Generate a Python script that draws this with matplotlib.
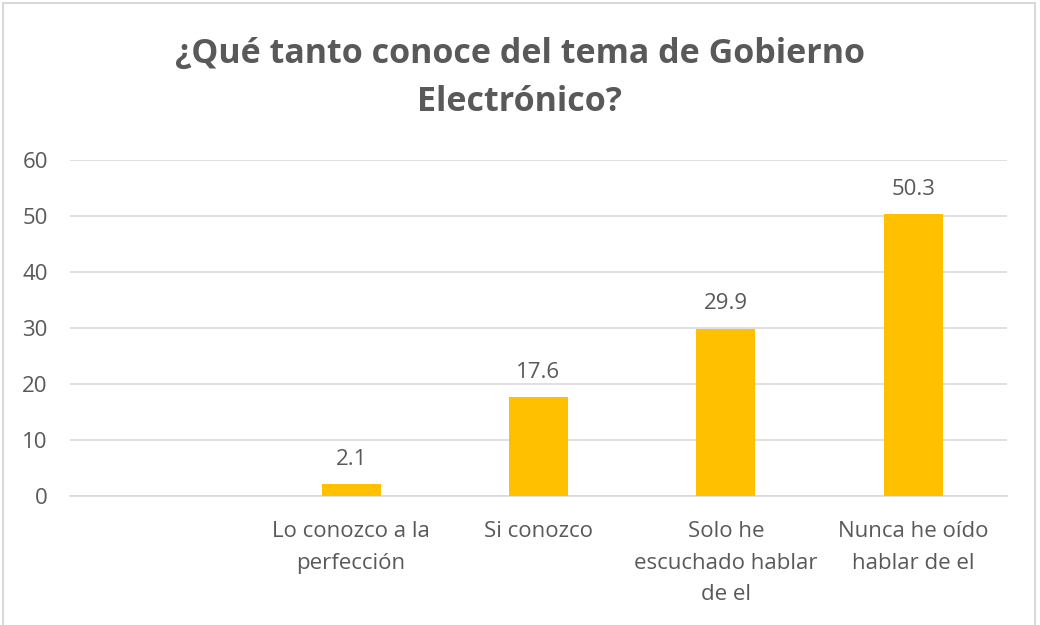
import matplotlib
matplotlib.use("Agg")
import matplotlib.pyplot as plt
import numpy as np
from matplotlib.patches import Rectangle

categories = ["", "Lo conozco a la\nperfección", "Si conozco",
              "Solo he\nescuchado hablar\nde el", "Nunca he oído\nhablar de el"]
values = [np.nan, 2.1, 17.6, 29.9, 50.3]
yticks = [0, 10, 20, 30, 40, 50, 60]
title = "¿Qué tanto conoce del tema de Gobierno\nElectrónico?"

FONT = ["Open Sans", "DejaVu Sans"]
GRAY = "#595959"
plt.rcParams["font.family"] = FONT

fig = plt.figure(figsize=(10.4, 6.25), dpi=100)
fig.patches.append(Rectangle((3/1040, -0.01), 1032/1040, 1 - 3/625 + 0.01,
                             transform=fig.transFigure, fill=False,
                             edgecolor="#d9d9d9", linewidth=1.5))

ax = fig.add_axes([70/1040, 1 - 496/625, (1007 - 70)/1040, (496 - 160)/625])
x = np.arange(len(categories))
bars = ax.bar(x, values, width=0.315, color="#FFC000", zorder=3)
for xi, v in zip(x, values):
    if not np.isnan(v):
        ax.text(xi, v + 2.6, f"{v:.1f}", ha="center", va="bottom",
                fontsize=16, color=GRAY)

ax.set_xlim(-0.5, len(categories) - 0.5)
ax.set_ylim(0, 60)
ax.set_yticks(yticks)
ax.set_yticklabels([str(t) for t in yticks], fontsize=16, color=GRAY)
ax.set_xticks(x)
ax.set_xticklabels(categories, fontsize=16, color=GRAY, linespacing=1.66, va="top")
ax.tick_params(axis="both", length=0)
ax.tick_params(axis="x", pad=18)
ax.tick_params(axis="y", pad=16)
ax.grid(axis="y", color="#d9d9d9", linewidth=1.2, zorder=0)
for s in ["top", "right", "left"]:
    ax.spines[s].set_visible(False)
ax.spines["bottom"].set_color("#d9d9d9")
ax.spines["bottom"].set_linewidth(1.2)

fig.text(520/1040, 1 - 78/625, title, ha="center", va="center",
         fontsize=24.5, fontweight="bold", color=GRAY, linespacing=1.55)

fig.savefig("out.png", dpi=100)
